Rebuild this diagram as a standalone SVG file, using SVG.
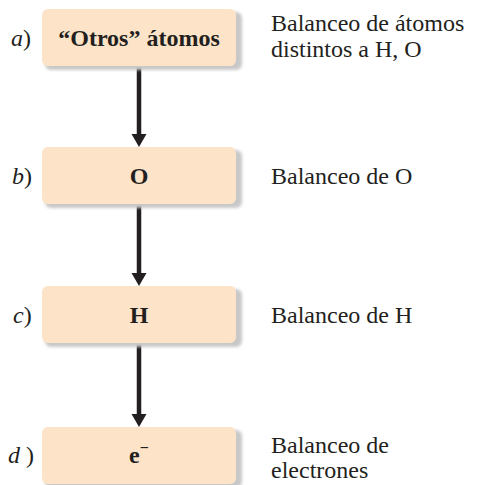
<svg xmlns="http://www.w3.org/2000/svg" width="480" height="485" viewBox="0 0 480 485">
<defs>
<filter id="sh" x="-10%" y="-20%" width="130%" height="150%">
<feGaussianBlur stdDeviation="1.5"/>
</filter>
</defs>
<style>
.box{fill:#fde4c8}
.shadow{fill:#c8c8c8;filter:url(#sh)}
.nt{font-family:"Liberation Serif",serif;font-weight:bold;font-size:24px;fill:#231f20;text-anchor:middle}
.ds{font-family:"Liberation Serif",serif;font-size:24px;fill:#231f20}
.it{font-style:italic}
.cn{stroke:#231f20;stroke-width:4.5;fill:none}
.hd{fill:#231f20}
</style>
<g id="connectors">
<line class="cn" x1="139" y1="66" x2="139" y2="136"/>
<polygon class="hd" points="131.5,134 146.5,134 139,147"/>
<line class="cn" x1="139" y1="204" x2="139" y2="275"/>
<polygon class="hd" points="131.5,273 146.5,273 139,286"/>
<line class="cn" x1="139" y1="343" x2="139" y2="416"/>
<polygon class="hd" points="131.5,414 146.5,414 139,427"/>
</g>
<g id="node-a">
<rect class="shadow" x="45" y="12" width="197" height="58" rx="6"/>
<rect class="box" x="42" y="9" width="194" height="57" rx="6"/>
<text class="nt" x="139" y="46">“Otros” átomos</text>
<text class="ds" x="11" y="46"><tspan class="it">a</tspan>)</text>
<text class="ds" x="271" y="31">Balanceo de átomos</text>
<text class="ds" x="271" y="57">distintos a H, O</text>
</g>
<g id="node-b">
<rect class="shadow" x="45" y="150" width="197" height="58" rx="6"/>
<rect class="box" x="42" y="147" width="194" height="57" rx="6"/>
<text class="nt" x="139" y="184">O</text>
<text class="ds" x="12" y="184"><tspan class="it">b</tspan>)</text>
<text class="ds" x="271" y="184">Balanceo de O</text>
</g>
<g id="node-c">
<rect class="shadow" x="45" y="289" width="197" height="58" rx="6"/>
<rect class="box" x="42" y="286" width="194" height="57" rx="6"/>
<text class="nt" x="139" y="323">H</text>
<text class="ds" x="13" y="323"><tspan class="it">c</tspan>)</text>
<text class="ds" x="271" y="323">Balanceo de H</text>
</g>
<g id="node-d">
<rect class="shadow" x="45" y="430" width="197" height="58" rx="6"/>
<rect class="box" x="42" y="427" width="194" height="57" rx="6"/>
<text class="nt" x="139" y="463">e<tspan font-size="16" dy="-10">−</tspan></text>
<text class="ds" x="8" y="463"><tspan class="it">d</tspan> )</text>
<text class="ds" x="271" y="453">Balanceo de</text>
<text class="ds" x="271" y="478">electrones</text>
</g>
</svg>
